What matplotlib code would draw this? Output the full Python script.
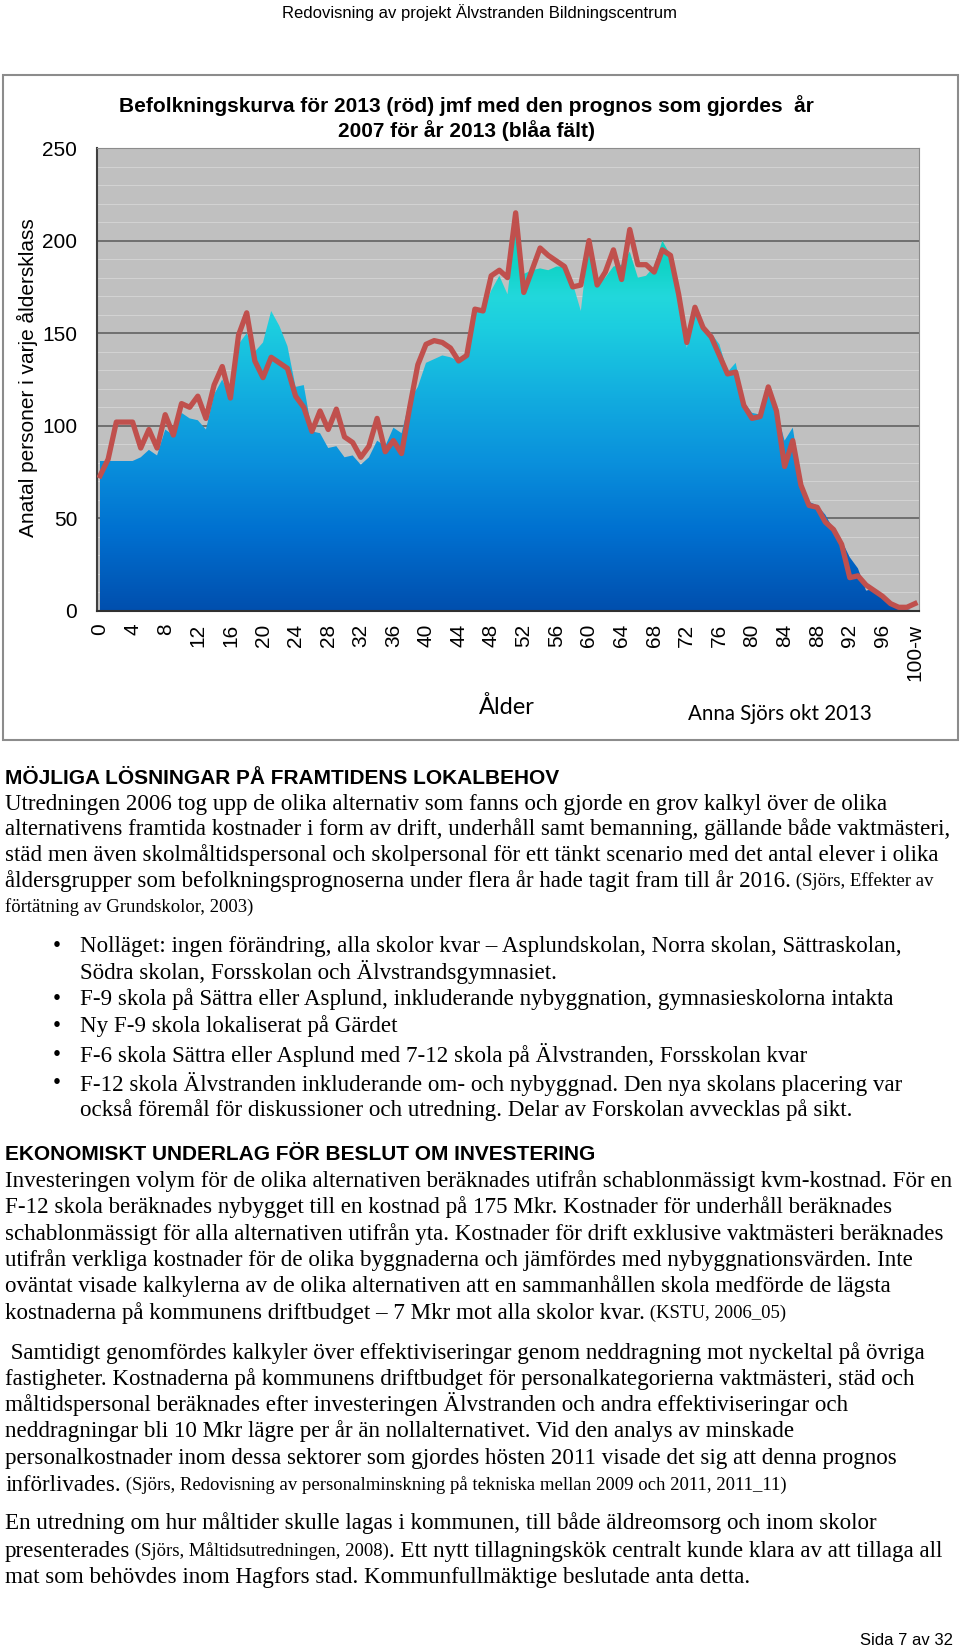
import matplotlib
matplotlib.use("Agg")
import matplotlib.pyplot as plt
import numpy as np
from matplotlib.colors import LinearSegmentedColormap
from matplotlib.patches import Rectangle
from matplotlib.ticker import MultipleLocator

# ages 0..99 and a last class "100-w"
ages = [str(a) for a in range(100)] + ["100-w"]

# population 2013 (red line)
actual = [73, 82, 102, 102, 102, 88, 98, 88, 106, 95, 112, 110, 116, 104, 122,
          132, 115, 149, 161, 135, 126, 137, 134, 131, 116, 110, 97, 108, 98, 109,
          94, 91, 83, 89, 104, 86, 92, 85, 110, 133, 144, 146, 145, 142, 135,
          138, 163, 162, 181, 184, 180, 215, 172, 184, 196, 192, 189, 186, 175, 176,
          200, 176, 183, 195, 179, 206, 187, 187, 183, 195, 192, 171, 145, 164, 153,
          148, 138, 128, 129, 111, 104, 105, 121, 108, 78, 92, 68, 57, 56, 48,
          44, 36, 18, 19, 14, 11, 8, 4, 2, 2, 4]

# forecast made 2007 for 2013 (blue field)
forecast = [81, 81, 81, 81, 81, 83, 87, 84, 98, 95, 107, 104, 103, 98, 117,
            125, 115, 144, 150, 140, 145, 162, 154, 143, 121, 122, 97, 96, 88, 89,
            83, 84, 79, 83, 92, 89, 99, 96, 114, 121, 134, 136, 138, 137, 135,
            137, 162, 162, 173, 181, 171, 207, 182, 184, 185, 184, 186, 186, 177, 162,
            201, 177, 180, 186, 187, 194, 180, 181, 186, 200, 192, 171, 142, 162, 153,
            150, 144, 129, 134, 113, 107, 106, 120, 108, 92, 99, 71, 59, 57, 52,
            44, 38, 29, 23, 11, 12, 8, 3, 1, 1, 0]

yticks = [0, 50, 100, 150, 200, 250]

W, H = 960, 1651
fig = plt.figure(figsize=(W / 100, H / 100), dpi=100)


def fx(x):
    return x / W


def fy(y):
    return 1 - y / H


# chart frame
fig.patches.append(Rectangle((fx(3), fy(740)), fx(955), 665 / H, transform=fig.transFigure,
                             facecolor="white", edgecolor="#8c8c8c", lw=1.5, zorder=-5))

ax = fig.add_axes([fx(96.5), fy(611), 822 / W, 463 / H])
ax.set_facecolor("#c0c0c0")
x = np.arange(len(ages))
ax.set_xlim(-0.43, 100.43)
ax.set_ylim(0, 250)

ax.yaxis.set_minor_locator(MultipleLocator(10))
ax.set_yticks(yticks)
ax.grid(True, axis="y", which="minor", color="#d2d2d2", lw=0.8)
ax.grid(True, axis="y", which="major", color="#5a5a5a", lw=1.1)
ax.set_axisbelow(True)

cmap = LinearSegmentedColormap.from_list("fill", [
    (0.0, "#004fae"), (0.17, "#0070d0"), (0.32, "#0a90dc"), (0.46, "#12acdf"),
    (0.61, "#1ccde0"), (0.68, "#22d8dc"), (0.74, "#12d4c8"), (1.0, "#10d0b8")])
grad = np.linspace(0, 1, 256).reshape(-1, 1)
im = ax.imshow(grad, extent=[-0.43, 100.43, 0, 250], origin="lower", aspect="auto",
               cmap=cmap, zorder=2)
area = ax.fill_between(x, forecast, 0, color="none", lw=0)
im.set_clip_path(area.get_paths()[0], transform=ax.transData)

ax.plot(x, actual, color="#c0504d", lw=3.8, solid_joinstyle="round", zorder=3)

ax.set_xticks(x[::4])
ax.set_xticklabels(ages[::4], rotation=90, fontsize=15, family="Liberation Sans")
ax.tick_params(axis="x", length=0, pad=9)
ax.tick_params(axis="y", which="both", length=0, pad=14)
for lab in ax.get_yticklabels():
    lab.set_fontsize(15)
    lab.set_family("Liberation Sans")
for s in ["top", "right"]:
    ax.spines[s].set_color("#8c8c8c")
ax.spines["left"].set_color("#404040")
ax.spines["bottom"].set_color("#303030")
ax.spines["left"].set_linewidth(1.5)
ax.spines["bottom"].set_linewidth(1.5)

fig.text(fx(466), fy(105.5), "Befolkningskurva för 2013 (röd) jmf med den prognos som gjordes  år",
         ha="center", va="center", fontsize=15, fontweight="bold", family="Liberation Sans")
fig.text(fx(466), fy(131), "2007 för år 2013 (blåa fält)",
         ha="center", va="center", fontsize=15, fontweight="bold", family="Liberation Sans")
fig.text(fx(27), fy(378), "Anatal personer i varje åldersklass", rotation=90,
         ha="center", va="center", fontsize=15, family="Liberation Sans")
fig.text(fx(507), fy(707), "Ålder", ha="center", va="center", fontsize=17, family="Lato")
fig.text(fx(780), fy(714), "Anna Sjörs okt 2013", ha="center", va="center",
         fontsize=14.8, family="Lato")

# page text
fig.text(fx(480), fy(12.6), "Redovisning av projekt Älvstranden Bildningscentrum",
         ha="center", va="center", fontsize=12, family="Liberation Sans")
fig.text(fx(953), fy(1640), "Sida 7 av 32", ha="right", va="center", fontsize=12,
         family="Liberation Sans")

renderer = fig.canvas.get_renderer()
BODY = 16.6
SMALL = 13.5


def line(y, parts, x=5):
    for txt, size in parts:
        t = fig.text(fx(x), fy(y), txt, fontsize=size, family="Liberation Serif", va="center")
        x += t.get_window_extent(renderer).width


def heading(y, txt):
    fig.text(fx(5), fy(y), txt, fontsize=15, fontweight="bold", family="Liberation Sans",
             va="center")


heading(778, "MÖJLIGA LÖSNINGAR PÅ FRAMTIDENS LOKALBEHOV")
line(804, [("Utredningen 2006 tog upp de olika alternativ som fanns och gjorde en grov kalkyl över de olika", BODY)])
line(829.5, [("alternativens framtida kostnader i form av drift, underhåll samt bemanning, gällande både vaktmästeri,", BODY)])
line(855, [("städ men även skolmåltidspersonal och skolpersonal för ett tänkt scenario med det antal elever i olika", BODY)])
line(881, [("åldersgrupper som befolkningsprognoserna under flera år hade tagit fram till år 2016.", BODY),
           (" (Sjörs, Effekter av", SMALL)])
line(907, [("förtätning av Grundskolor, 2003)", SMALL)])

bullets = [
    (946.5, "Nolläget: ingen förändring, alla skolor kvar – Asplundskolan, Norra skolan, Sättraskolan,", True),
    (972, "Södra skolan, Forsskolan och Älvstrandsgymnasiet.", False),
    (999.5, "F-9 skola på Sättra eller Asplund, inkluderande nybyggnation, gymnasieskolorna intakta", True),
    (1026.5, "Ny F-9 skola lokaliserat på Gärdet", True),
    (1055, "F-6 skola Sättra eller Asplund med 7-12 skola på Älvstranden, Forsskolan kvar", True),
    (1083.5, "F-12 skola Älvstranden inkluderande om- och nybyggnad. Den nya skolans placering var", True),
    (1110.5, "också föremål för diskussioner och utredning. Delar av Forskolan avvecklas på sikt.", False),
]
for y, txt, dot in bullets:
    if dot:
        fig.text(fx(57), fy(y), "•", fontsize=BODY, family="Liberation Serif", ha="center", va="center")
    line(y, [(txt, BODY)], x=80)

heading(1155, "EKONOMISKT UNDERLAG FÖR BESLUT OM INVESTERING")
line(1181, [("Investeringen volym för de olika alternativen beräknades utifrån schablonmässigt kvm-kostnad. För en", BODY)])
line(1207, [("F-12 skola beräknades nybygget till en kostnad på 175 Mkr. Kostnader för underhåll beräknades", BODY)])
line(1234, [("schablonmässigt för alla alternativen utifrån yta. Kostnader för drift exklusive vaktmästeri beräknades", BODY)])
line(1260, [("utifrån verkliga kostnader för de olika byggnaderna och jämfördes med nybyggnationsvärden. Inte", BODY)])
line(1286, [("oväntat visade kalkylerna av de olika alternativen att en sammanhållen skola medförde de lägsta", BODY)])
line(1313, [("kostnaderna på kommunens driftbudget – 7 Mkr mot alla skolor kvar.", BODY),
            (" (KSTU, 2006_05)", SMALL)])

line(1353, [(" Samtidigt genomfördes kalkyler över effektiviseringar genom neddragning mot nyckeltal på övriga", BODY)])
line(1379, [("fastigheter. Kostnaderna på kommunens driftbudget för personalkategorierna vaktmästeri, städ och", BODY)])
line(1404, [("måltidspersonal beräknades efter investeringen Älvstranden och andra effektiviseringar och", BODY)])
line(1431, [("neddragningar bli 10 Mkr lägre per år än nollalternativet. Vid den analys av minskade", BODY)])
line(1458, [("personalkostnader inom dessa sektorer som gjordes hösten 2011 visade det sig att denna prognos", BODY)])
line(1485, [("införlivades.", BODY),
            (" (Sjörs, Redovisning av personalminskning på tekniska mellan 2009 och 2011, 2011_11)", SMALL)])

line(1523, [("En utredning om hur måltider skulle lagas i kommunen, till både äldreomsorg och inom skolor", BODY)])
line(1551, [("presenterades", BODY), (" (Sjörs, Måltidsutredningen, 2008)", SMALL),
            (". Ett nytt tillagningskök centralt kunde klara av att tillaga all", BODY)])
line(1577, [("mat som behövdes inom Hagfors stad. Kommunfullmäktige beslutade anta detta.", BODY)])

fig.savefig("out.png", dpi=100)
